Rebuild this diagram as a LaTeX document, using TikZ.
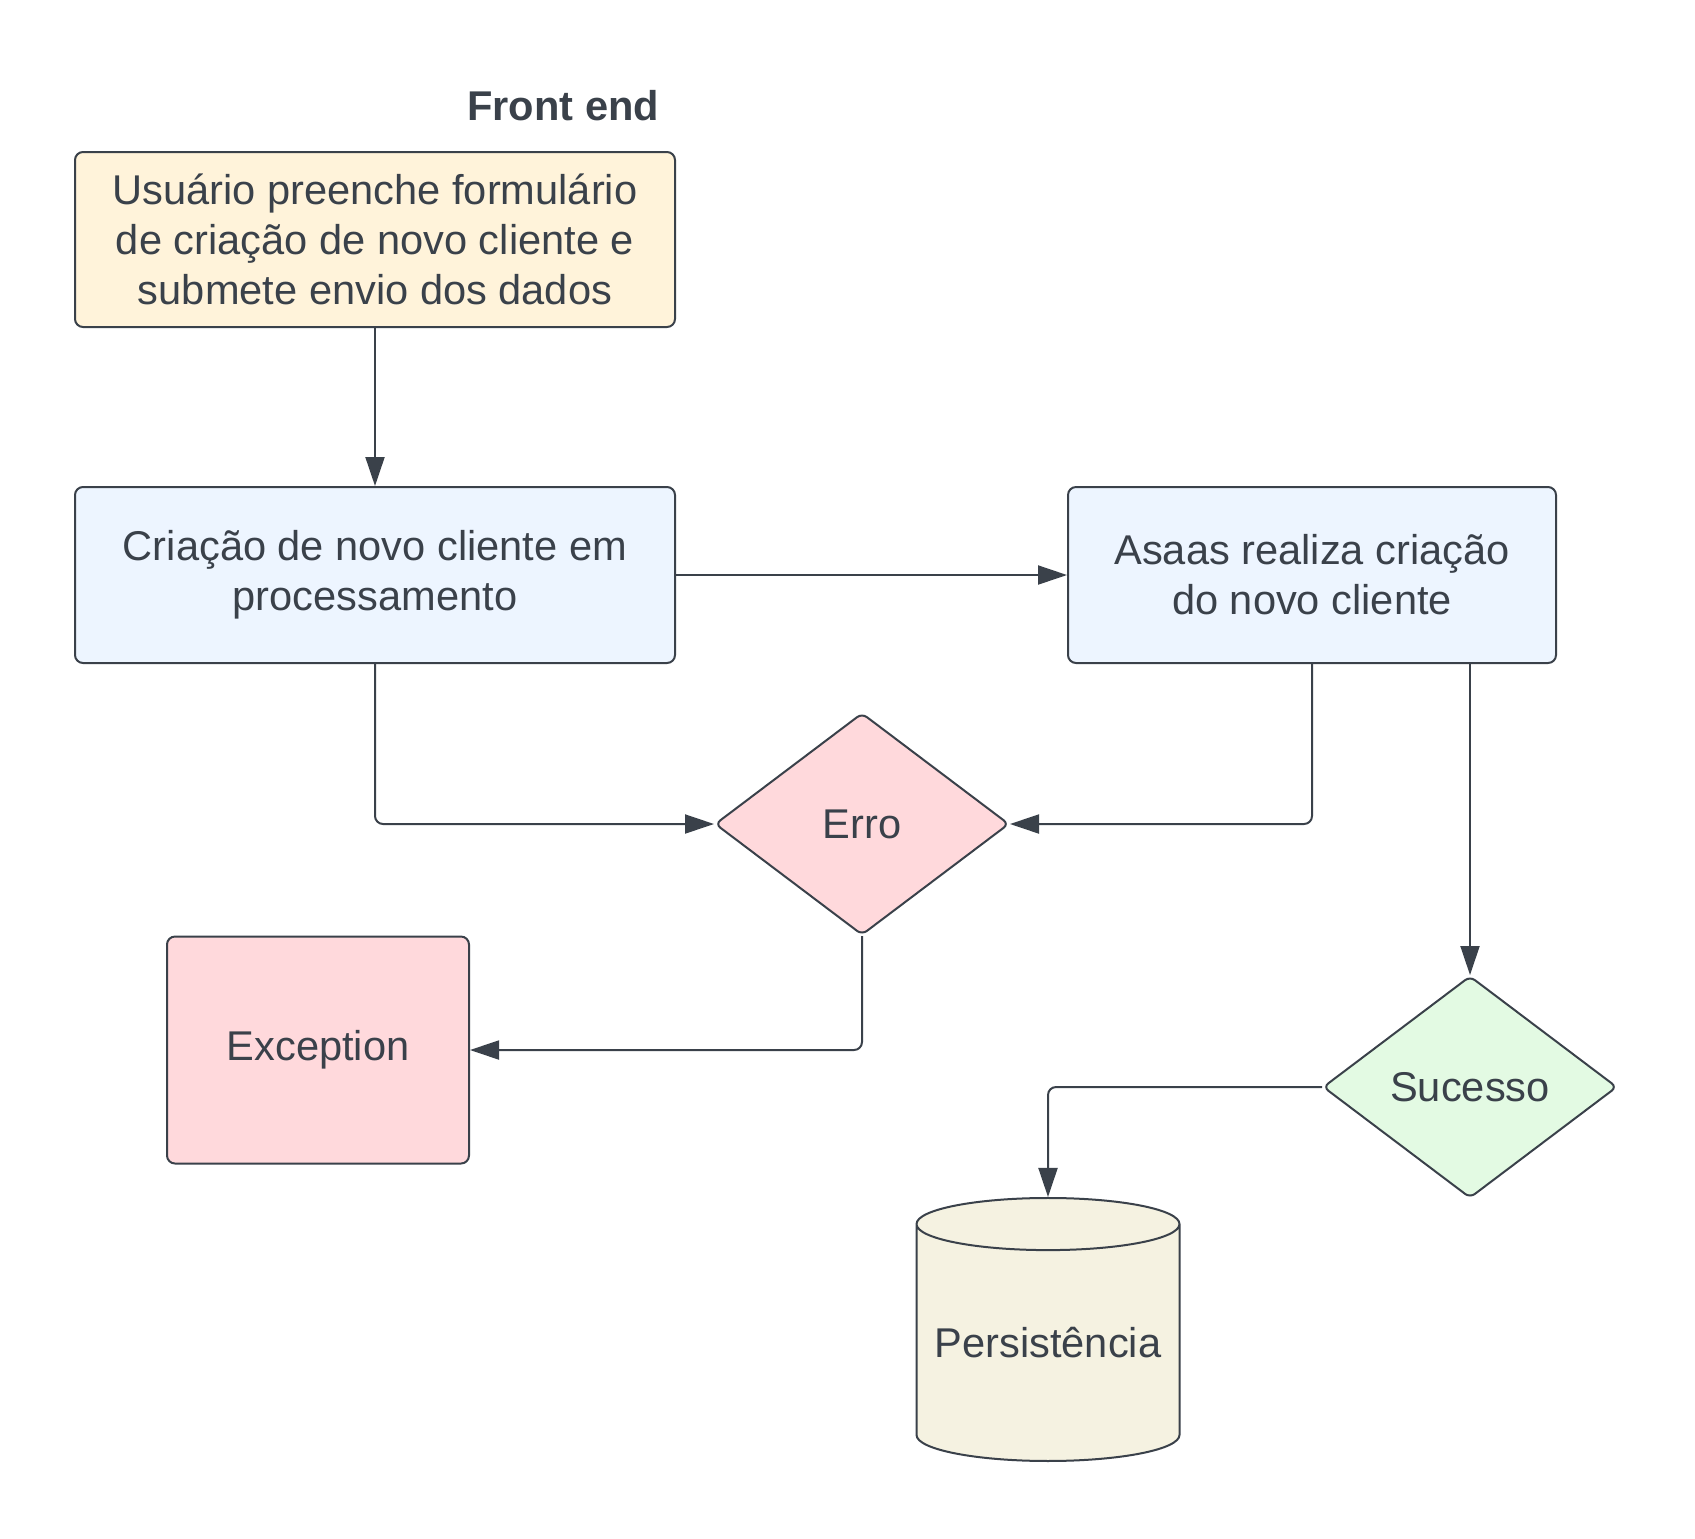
\documentclass[tikz,border=0pt]{standalone}
\usepackage{fontspec}
\setmainfont{Liberation Sans}
\usetikzlibrary{arrows.meta,shapes.geometric}
\definecolor{ink}{HTML}{3A414A}
\definecolor{cream}{HTML}{FFF3DA}
\definecolor{paleblue}{HTML}{EDF5FF}
\definecolor{palered}{HTML}{FFD9DC}
\definecolor{palegreen}{HTML}{E3FAE3}
\definecolor{sand}{HTML}{F5F2E1}

\begin{document}
\begin{tikzpicture}[x=0.5pt,y=-0.5pt,->,>={Triangle[length=14.5pt,width=9.5pt]},line width=1pt,color=ink,rounded corners=4pt,
  step box/.style={rectangle,draw=ink,rounded corners=4pt,align=center,inner sep=0pt,font=\fontsize{20.8}{25}\selectfont},
  choice/.style={diamond,draw=ink,rounded corners=3pt,inner sep=0pt,minimum width=147pt,minimum height=111pt,font=\fontsize{20.8}{25}\selectfont},
  store/.style={cylinder,shape border rotate=90,shape aspect=0.23,sharp corners,draw=ink,fill=sand,inner sep=0pt,minimum width=131.5pt,minimum height=131.5pt,font=\fontsize{20.8}{25}\selectfont}]
  \useasboundingbox (0,0) rectangle (1695,1538);

  \node[font=\fontsize{20.8}{25}\selectfont\bfseries,anchor=east,inner sep=0pt] (title) at (660,106) {Front end};
  \node[step box,fill=cream,minimum width=300pt,minimum height=87.5pt] (form) at (375,239.5) {Usuário preenche formulário\\de criação de novo cliente e\\submete envio dos dados};
  \node[step box,fill=paleblue,minimum width=300pt,minimum height=88pt] (proc) at (375,575) {Criação de novo cliente em\\processamento};
  \node[step box,fill=paleblue,minimum width=244pt,minimum height=88pt] (asaas) at (1312,575) {Asaas realiza criação\\do novo cliente};
  \node[choice,fill=palered] (erro) at (862,824) {Erro};
  \node[step box,fill=palered,minimum width=151pt,minimum height=113.5pt] (exc) at (318,1050) {Exception};
  \node[choice,fill=palegreen] (sucesso) at (1470,1087) {Sucesso};
  \node[store] (db) at (1048,1343) {Persistência};

  \draw (form) -- (proc);
  \draw (proc) -- (asaas);
  \draw (proc) |- (erro);
  \draw (asaas) |- (erro);
  \draw (asaas.south -| sucesso.north) -- (sucesso.north);
  \draw (erro) |- (exc);
  \draw (sucesso) -| (db);
\end{tikzpicture}
\end{document}
